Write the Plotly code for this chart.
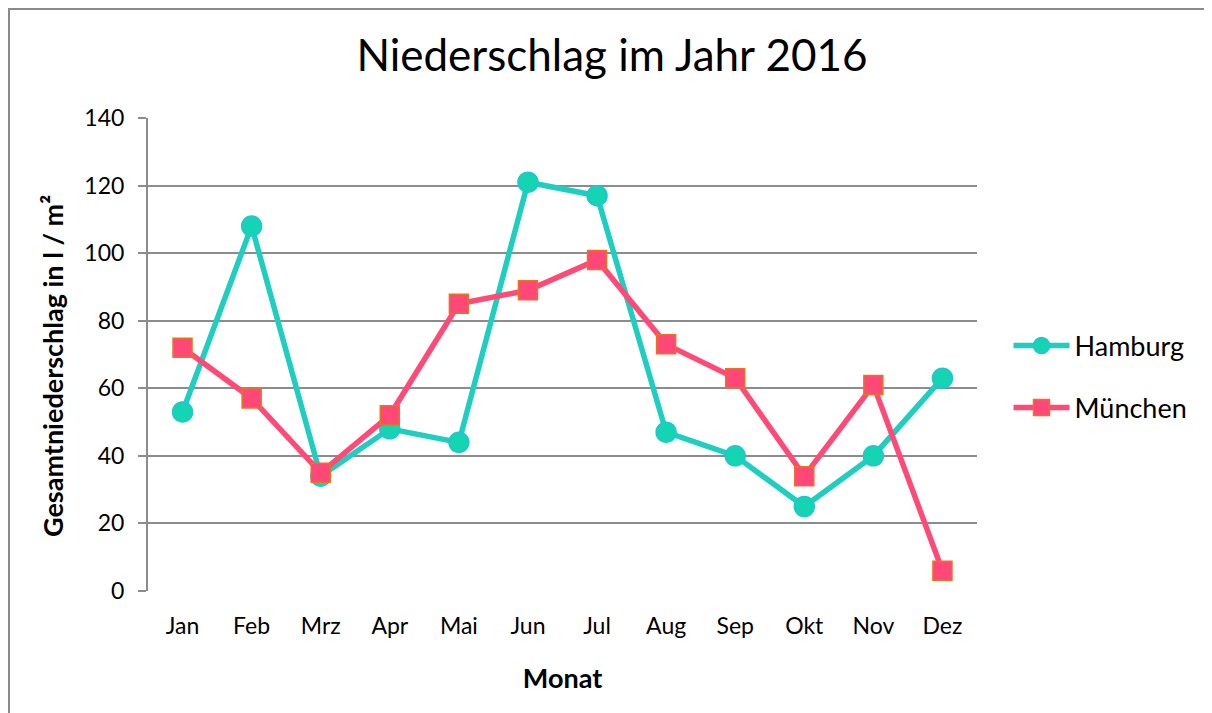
import plotly.graph_objects as go

months = ["Jan", "Feb", "Mrz", "Apr", "Mai", "Jun", "Jul", "Aug", "Sep", "Okt", "Nov", "Dez"]
hamburg = [53, 108, 34, 48, 44, 121, 117, 47, 40, 25, 40, 63]
muenchen = [72, 57, 35, 52, 85, 89, 98, 73, 63, 34, 61, 6]
y_ticks = [0, 20, 40, 60, 80, 100, 120, 140]

FONT = "Lato, 'Open Sans', sans-serif"

# page has an 8px body margin; figure sized to fit
W, H = 1204, 705
L, T, PW, PH = 140, 110, 829, 473

fig = go.Figure()
fig.add_trace(go.Scatter(
    x=months, y=hamburg, name="Hamburg", mode="lines+markers",
    line=dict(color="#1ECEC0", width=5.5),
    marker=dict(symbol="circle", size=20, color="#14D4B2", line=dict(color="#22C4D8", width=1.5)),
    legend="legend",
))
fig.add_trace(go.Scatter(
    x=months, y=muenchen, name="München", mode="lines+markers",
    line=dict(color="#FF4A78", width=5.5),
    marker=dict(symbol="square", size=19, color="#FF4778", line=dict(color="#E8731E", width=1.5)),
    legend="legend2",
))

fig.update_layout(
    width=W, height=H,
    margin=dict(l=L, r=W - L - PW, t=T, b=H - T - PH),
    paper_bgcolor="white", plot_bgcolor="white",
    font=dict(family=FONT, color="black", size=23),
    title=dict(text="Niederschlag im Jahr 2016", x=604 / W, xanchor="center",
               y=1 - 48 / H, yanchor="middle", yref="container",
               font=dict(size=44, family=FONT, color="black")),
    legend=dict(x=1.038, y=(591 - 346) / 473, xanchor="left", yanchor="middle",
                font=dict(size=27), bgcolor="rgba(0,0,0,0)", itemwidth=56),
    legend2=dict(x=1.038, y=(591 - 408) / 473, xanchor="left", yanchor="middle",
                 font=dict(size=27), bgcolor="rgba(0,0,0,0)", itemwidth=56),
    showlegend=True,
    xaxis=dict(
        type="category", range=[-0.5, 11.5], showgrid=False, zeroline=False,
        showline=False, ticks="", tickfont=dict(size=23), ticklabelstandoff=19,
        title=dict(text="<b>Monat</b>", font=dict(size=27), standoff=31),
    ),
    yaxis=dict(
        range=[0, 140], tickvals=y_ticks, showgrid=True, gridcolor="#8C8C8C", gridwidth=2,
        zeroline=False, showline=True, linecolor="#8C8C8C", linewidth=2,
        ticks="outside", ticklen=8, tickcolor="#8C8C8C", tickwidth=2,
        tickfont=dict(size=23), ticklabelstandoff=9,
    ),
    annotations=[dict(text="<b>Gesamtniederschlag in l / m²</b>", textangle=-90,
                      xref="paper", yref="paper", x=(44 - L) / PW, y=(591 - 366) / 473,
                      xanchor="center", yanchor="middle", showarrow=False,
                      font=dict(size=27, family=FONT, color="black"))],
    shapes=[dict(type="rect", xref="paper", yref="paper",
                 x0=(1 - L) / PW, x1=1.5, y0=-0.5, y1=(T + PH - 1) / PH,
                 line=dict(color="#8A8A8A", width=2), layer="below")],
)

fig.write_html("out.html")
